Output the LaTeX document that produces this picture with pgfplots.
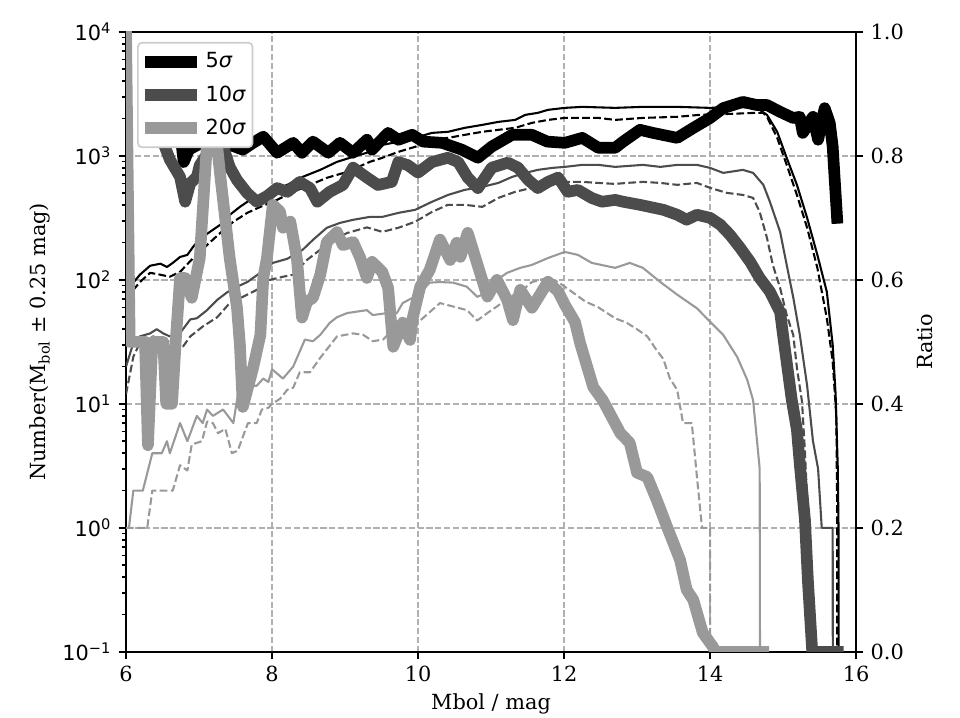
\documentclass[border=0pt]{standalone}
\usepackage{fontspec}
\setmainfont{DejaVu Serif}
\newfontfamily\djsans{DejaVu Sans}
\usepackage{pgfplots}
\pgfplotsset{compat=1.18}

\definecolor{darkgr}{gray}{0.3}
\definecolor{lightgr}{gray}{0.6}
\definecolor{gridgr}{HTML}{B0B0B0}
\definecolor{legedge}{HTML}{CCCCCC}

\pgfplotsset{
  base/.style={
    width=350.4pt, height=297.6pt, scale only axis,
    xmin=6, xmax=16,
    axis line style={line width=0.8pt},
    every tick/.style={black, line width=0.8pt},
    tick align=outside,
    major tick length=3.5pt, minor tick length=2pt,
    tick label style={font=\fontsize{10}{12}\selectfont},
    label style={font=\fontsize{10}{12}\selectfont},
  },
  thin/.style={line width=1pt, line join=round},
  dsh/.style={dash pattern=on 3.7pt off 1.6pt},
  thick/.style={line width=5.6pt, line join=round, line cap=rect},
}

\begin{document}
\begin{tikzpicture}
\path[use as bounding box] (-60.5pt,-31.7pt) rectangle (400.3pt,312.9pt);

% number counts (left, logarithmic axis)
\begin{axis}[
  base,
  ymode=log, ymin=0.1, ymax=1e4,
  xtick={6,8,10,12,14,16}, xticklabels={6,8,10,12,14,16},
  ytick={0.1,1,10,100,1000,10000},
  yticklabels={{\djsans 10\textsuperscript{−1}},{\djsans 10\textsuperscript{0}},{\djsans 10\textsuperscript{1}},{\djsans 10\textsuperscript{2}},{\djsans 10\textsuperscript{3}},{\djsans 10\textsuperscript{4}}},
  minor ytick={0.2,0.3,0.4,0.5,0.6,0.7,0.8,0.9,2,3,4,5,6,7,8,9,20,30,40,50,60,70,80,90,200,300,400,500,600,700,800,900,2000,3000,4000,5000,6000,7000,8000,9000},
  xtick pos=bottom, ytick pos=left,
  grid=major,
  major grid style={gridgr, line width=0.8pt, dash pattern=on 2.96pt off 1.28pt},
  xlabel={Mbol / mag},
  xlabel style={at={(axis description cs:0.5,-0.0935)}, anchor=base},
  ylabel={Number(M\textsubscript{bol} ± 0.25 mag)},
  ylabel style={at={(axis description cs:-0.1178,0.5)}, anchor=center},
]
% 5 sigma, solid
\addplot[thin, black] coordinates {
(6.00,55) (6.10,95) (6.19,110) (6.33,130) (6.47,135) (6.56,127) (6.64,137) (6.74,153)
(6.84,159) (6.92,185) (7.01,214) (7.15,244) (7.29,278) (7.42,334) (7.56,388) (7.74,458)
(7.97,513) (8.21,584) (8.42,677) (8.66,771) (8.89,895) (9.11,982) (9.34,1077) (9.51,1227)
(9.73,1297) (9.96,1397) (10.19,1532) (10.41,1563) (10.64,1683) (10.88,1778) (11.10,1880)
(11.33,1950) (11.47,2142) (11.64,2222) (11.78,2350) (12.01,2438) (12.25,2484) (12.70,2438)
(13.08,2484) (13.55,2484) (14.00,2438) (14.37,2484) (14.64,2438) (14.78,2142) (14.92,1563)
(15.05,964) (15.19,584) (15.33,316) (15.47,159) (15.60,80) (15.68,30) (15.72,12) (15.75,3)
(15.76,1) (15.765,0.001)
};
% 5 sigma, dashed
\addplot[thin, dsh, black] coordinates {
(6.00,45) (6.10,83) (6.19,96) (6.33,114) (6.47,110) (6.60,106) (6.74,116) (6.92,150)
(7.11,191) (7.29,239) (7.47,294) (7.66,347) (7.84,388) (8.07,442) (8.29,513) (8.52,584)
(8.75,665) (9.03,743) (9.34,895) (9.51,964) (9.73,1077) (9.96,1183) (10.19,1346) (10.41,1397)
(10.64,1477) (10.88,1563) (11.10,1622) (11.33,1683) (11.56,1845) (11.78,1950) (12.01,2024)
(12.47,2024) (12.70,1950) (13.08,2024) (13.55,2065) (13.86,2142) (14.27,2180) (14.62,2222)
(14.73,2222) (14.78,2065) (14.92,1397) (15.05,846) (15.19,484) (15.33,263) (15.47,125)
(15.60,49) (15.68,22) (15.73,8) (15.74,1.7) (15.745,0.001)
};
% 10 sigma, solid
\addplot[thin, darkgr] coordinates {
(6.00,20) (6.10,31) (6.19,35) (6.33,37) (6.42,40) (6.51,37) (6.60,35) (6.70,35) (6.78,40)
(6.88,48) (6.97,49) (7.11,57) (7.25,69) (7.38,79) (7.52,88) (7.66,96) (7.84,114) (8.01,137)
(8.21,148) (8.42,175) (8.56,210) (8.75,263) (8.93,288) (9.11,305) (9.34,322) (9.51,322)
(9.73,347) (9.96,367) (10.19,426) (10.41,484) (10.64,532) (10.88,562) (11.10,605) (11.29,677)
(11.47,729) (11.64,771) (11.84,800) (12.01,815) (12.25,846) (12.47,846) (12.70,815) (13.08,846)
(13.32,815) (13.55,846) (13.82,846) (14.00,800) (14.18,729) (14.45,771) (14.59,729) (14.73,584)
(14.82,426) (14.96,244) (15.05,132) (15.14,72) (15.23,36) (15.33,14) (15.41,5) (15.48,3)
(15.53,1) (15.68,1) (15.685,0.001)
};
% 10 sigma, dashed
\addplot[thin, dsh, darkgr] coordinates {
(6.00,12) (6.10,24) (6.19,31) (6.37,35) (6.51,33) (6.64,31) (6.78,29) (6.88,35) (7.05,42)
(7.25,50) (7.42,65) (7.60,73) (7.79,83) (7.97,100) (8.15,106) (8.29,110) (8.48,145) (8.66,175)
(8.84,210) (9.03,239) (9.30,265) (9.51,244) (9.73,263) (9.96,294) (10.19,353) (10.41,403)
(10.64,403) (10.88,388) (11.10,458) (11.33,513) (11.56,552) (11.78,584) (12.01,617) (12.25,617)
(12.47,605) (12.70,594) (12.86,605) (13.08,617) (13.32,605) (13.55,584) (13.82,605) (14.00,552)
(14.23,503) (14.45,484) (14.59,458) (14.68,353) (14.78,218) (14.86,132) (14.96,86) (15.05,52)
(15.14,36) (15.19,19.5) (15.26,10.4) (15.30,4.1) (15.33,1.7) (15.35,1) (15.36,0.001)
};
% 20 sigma, solid
\addplot[thin, lightgr] coordinates {
(6.00,1) (6.04,1) (6.10,2) (6.23,2) (6.36,4) (6.49,4) (6.56,5) (6.60,4) (6.74,7) (6.84,5)
(6.97,8) (7.05,7) (7.11,9) (7.19,8) (7.33,9) (7.47,7) (7.56,15) (7.66,14) (7.79,14) (7.88,16)
(7.95,15) (8.00,19) (8.15,16) (8.29,20) (8.45,33) (8.56,32) (8.66,36) (8.79,45) (8.89,50)
(9.03,54) (9.30,57) (9.38,52) (9.58,54) (9.71,54) (9.79,65) (9.93,72) (10.03,79) (10.16,95)
(10.30,96) (10.48,95) (10.67,88) (10.81,73) (10.95,79) (11.08,100) (11.22,114) (11.40,125)
(11.56,132) (11.78,150) (12.01,168) (12.19,159) (12.38,137) (12.70,125) (12.90,137) (13.08,125)
(13.32,96) (13.55,76) (13.82,59) (14.00,46) (14.18,36) (14.37,24) (14.51,15.6) (14.59,10.7)
(14.68,3) (14.69,0.001)
};
% 20 sigma, dashed
\addplot[thin, dsh, lightgr] coordinates {
(6.00,1) (6.29,1) (6.36,2) (6.64,2) (6.74,3.2) (6.84,2.9) (6.90,4.7) (7.04,5) (7.11,7.2)
(7.19,7) (7.26,5.8) (7.36,6.3) (7.45,4) (7.53,4.2) (7.67,7) (7.79,7) (7.86,9) (7.95,9.3)
(8.00,10) (8.11,11) (8.21,13) (8.29,13.5) (8.38,18) (8.52,18) (8.66,23.5) (8.89,35) (9.11,37)
(9.25,36) (9.38,32) (9.52,33) (9.66,40) (9.79,42) (9.93,45) (10.03,47) (10.30,65) (10.48,61)
(10.67,57) (10.81,47) (10.95,54) (11.08,61) (11.26,73) (11.40,80) (11.56,96) (11.78,104)
(11.92,96) (12.11,80) (12.29,67) (12.47,60) (12.70,49) (12.86,45) (13.00,40) (13.14,35)
(13.27,27) (13.36,23) (13.45,16) (13.55,13) (13.63,7) (13.75,7) (13.82,2.6) (13.89,1)
(14.00,1) (14.005,0.001)
};
\end{axis}

% ratios (right, linear axis)
\begin{axis}[
  base,
  ymin=0, ymax=1,
  axis y line*=right, axis x line=none,
  ytick={0,0.2,0.4,0.6,0.8,1}, yticklabels={0.0,0.2,0.4,0.6,0.8,1.0},
  ylabel={Ratio},
  ylabel style={at={(axis description cs:1.0945,0.5)}, anchor=center},
  legend image code/.code={\draw[#1, line cap=butt] (0pt,0pt) -- (25pt,0pt);},
  legend cell align=left,
  legend style={
    at={(0.0151,0.9839)}, anchor=north west,
    draw=legedge, line width=0.8pt, fill=white,
    rounded corners=2pt, inner xsep=0.4pt, inner ysep=3.8pt, row sep=5.0pt,
    font=\djsans\fontsize{10}{12}\selectfont,
    nodes={inner sep=1pt},
    /tikz/every odd column/.append style={column sep=0.5pt},
  },
]
\addplot[thick, black] coordinates {
(6.70,0.85) (6.76,0.82) (6.79,0.79) (6.86,0.81) (7.11,0.826) (7.29,0.813) (7.42,0.818)
(7.60,0.810) (7.74,0.821) (7.88,0.831) (8.07,0.805) (8.29,0.821) (8.41,0.805) (8.56,0.823)
(8.77,0.805) (8.93,0.821) (9.11,0.805) (9.30,0.826) (9.37,0.810) (9.59,0.837) (9.73,0.826)
(9.92,0.834) (10.07,0.823) (10.33,0.821) (10.60,0.810) (10.82,0.797) (11.01,0.815)
(11.29,0.834) (11.56,0.834) (11.77,0.823) (12.01,0.821) (12.25,0.829) (12.47,0.813)
(12.70,0.813) (12.81,0.823) (13.04,0.842) (13.22,0.837) (13.55,0.829) (13.77,0.845)
(14.00,0.861) (14.18,0.877) (14.45,0.887) (14.64,0.882) (14.78,0.882) (14.96,0.871)
(15.14,0.861) (15.23,0.863) (15.27,0.837) (15.41,0.863) (15.48,0.826) (15.57,0.877)
(15.64,0.853) (15.68,0.815) (15.74,0.700)
};
\addlegendentry{5\textit{σ}}
\addplot[thick, darkgr] coordinates {
(6.45,0.84) (6.60,0.794) (6.74,0.766) (6.81,0.726) (6.88,0.756) (6.97,0.766) (7.01,0.785)
(7.15,0.81) (7.33,0.815) (7.42,0.782) (7.52,0.761) (7.66,0.740) (7.79,0.726) (7.93,0.735)
(8.07,0.748) (8.21,0.742) (8.38,0.758) (8.52,0.748) (8.62,0.726) (8.79,0.742) (8.97,0.753)
(9.11,0.781) (9.30,0.765) (9.45,0.753) (9.64,0.758) (9.73,0.790) (9.86,0.785) (10.00,0.773)
(10.19,0.790) (10.41,0.797) (10.55,0.790) (10.68,0.765) (10.82,0.748) (11.01,0.781)
(11.23,0.789) (11.37,0.781) (11.51,0.761) (11.64,0.748) (11.78,0.758) (11.92,0.765)
(12.05,0.742) (12.19,0.745) (12.38,0.732) (12.52,0.726) (12.70,0.729) (12.81,0.726)
(13.04,0.721) (13.36,0.713) (13.55,0.705) (13.68,0.697) (13.82,0.705) (14.00,0.700)
(14.14,0.689) (14.27,0.673) (14.41,0.652) (14.55,0.629) (14.68,0.603) (14.82,0.581)
(14.96,0.548) (15.00,0.511) (15.12,0.406) (15.19,0.358) (15.23,0.302) (15.30,0.213)
(15.34,0.116) (15.40,0.0) (15.75,0.0)
};
\addlegendentry{10\textit{σ}}
\addplot[thick, lightgr] coordinates {
(6.00,1.0) (6.05,0.5) (6.26,0.5) (6.30,0.333) (6.36,0.5) (6.51,0.5) (6.55,0.4) (6.63,0.4)
(6.68,0.5) (6.74,0.603) (6.81,0.603) (6.90,0.571) (7.01,0.635) (7.05,0.71) (7.11,0.823)
(7.19,0.88) (7.29,0.769) (7.42,0.635) (7.52,0.555) (7.56,0.495) (7.60,0.395) (7.74,0.458)
(7.84,0.511) (7.88,0.603) (7.93,0.635) (8.01,0.721) (8.11,0.71) (8.15,0.684) (8.25,0.694)
(8.34,0.635) (8.41,0.539) (8.48,0.565) (8.56,0.571) (8.66,0.608) (8.75,0.661) (8.89,0.677)
(8.97,0.656) (9.11,0.661) (9.21,0.635) (9.30,0.603) (9.37,0.629) (9.51,0.613) (9.59,0.587)
(9.66,0.492) (9.79,0.531) (9.89,0.503) (9.93,0.540) (10.03,0.589) (10.16,0.616) (10.30,0.665)
(10.44,0.632) (10.53,0.660) (10.58,0.637) (10.68,0.676) (10.85,0.611) (10.95,0.573)
(11.08,0.600) (11.22,0.568) (11.30,0.535) (11.40,0.584) (11.56,0.555) (11.78,0.597)
(11.92,0.581) (12.01,0.560) (12.15,0.532) (12.22,0.498) (12.40,0.427) (12.53,0.406)
(12.77,0.353) (12.90,0.337) (13.00,0.289) (13.14,0.282) (13.27,0.245) (13.41,0.202)
(13.59,0.148) (13.68,0.100) (13.77,0.084) (13.90,0.031) (14.04,0.008) (14.07,0.0) (14.73,0.0)
};
\addlegendentry{20\textit{σ}\hspace*{1.8pt}}
\end{axis}
\end{tikzpicture}
\end{document}
